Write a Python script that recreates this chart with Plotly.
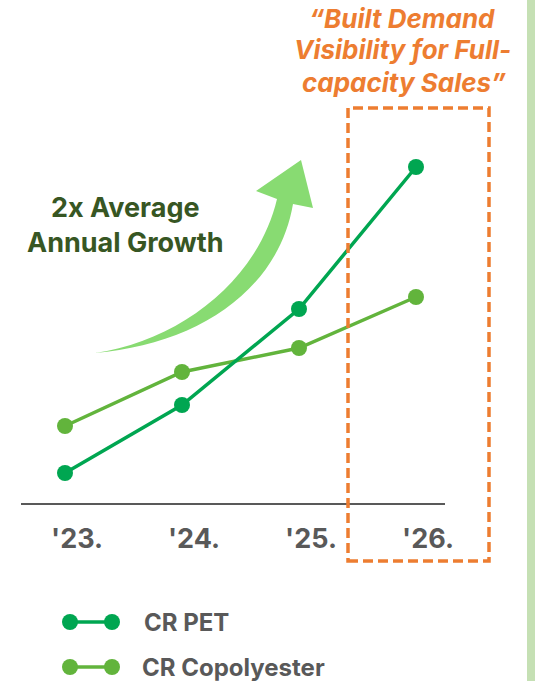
import plotly.graph_objects as go

# ---- data ----
years = ["'23.", "'24.", "'25.", "'26."]
cr_pet = [3.0, 9.8, 19.4, 33.6]
cr_copolyester = [7.7, 13.1, 15.5, 20.6]

PET_COLOR = "#00a651"
COPO_COLOR = "#62b43c"
ORANGE = "#ed7d31"
GRAY = "#595959"
FONT = "Inter"

W, H = 539, 681
L, R, T, B = 21, 445, 100, 503
PW, PH = R - L, B - T


def px(x):
    return (x - L) / PW


def py(y):
    return (B - y) / PH


xs = list(range(len(years)))
fig = go.Figure()
fig.add_trace(go.Scatter(x=xs, y=cr_copolyester, mode="lines+markers", name="CR Copolyester",
                         line=dict(color=COPO_COLOR, width=3.5),
                         marker=dict(color=COPO_COLOR, size=16), cliponaxis=False))
fig.add_trace(go.Scatter(x=xs, y=cr_pet, mode="lines+markers", name="CR PET",
                         line=dict(color=PET_COLOR, width=3.5),
                         marker=dict(color=PET_COLOR, size=16), cliponaxis=False))

shapes = []
# right green bar
shapes.append(dict(type="rect", xref="paper", yref="paper", x0=px(527), x1=px(535), y0=py(0), y1=py(H),
                   fillcolor="#c5e0b4", line=dict(width=0), layer="below"))

# curved arrow
pts = [
    ("M", [(95, 353)]),
    ("C", [(195, 345), (278, 292), (293, 204)]),
    ("L", [(313, 208)]),
    ("L", [(301, 160)]),
    ("L", [(256, 191)]),
    ("L", [(277, 199)]),
    ("C", [(258, 280), (180, 341), (95, 353)]),
]
path = ""
for cmd, cs in pts:
    path += cmd + " " + " ".join(f"{px(a):.5f},{py(b):.5f}" for a, b in cs) + " "
path += "Z"
shapes.append(dict(type="path", xref="paper", yref="paper", path=path,
                   fillcolor="#88db72", line=dict(width=0), layer="below"))

# orange dashed box
shapes.append(dict(type="rect", xref="paper", yref="paper", x0=px(348), x1=px(489), y0=py(561), y1=py(108),
                   line=dict(color=ORANGE, width=3.5, dash="10px,5px"), fillcolor="rgba(0,0,0,0)"))

# legend samples
for yy, col in [(622, PET_COLOR), (667, COPO_COLOR)]:
    shapes.append(dict(type="line", xref="paper", yref="paper", x0=px(70), x1=px(112), y0=py(yy), y1=py(yy),
                       line=dict(color=col, width=3.5)))
    for cx in (70, 112):
        shapes.append(dict(type="circle", xref="paper", yref="paper", x0=px(cx - 8), x1=px(cx + 8),
                           y0=py(yy + 8), y1=py(yy - 8), fillcolor=col, line=dict(width=0)))

annotations = []
for txt, cx, cy in [("“Built Demand", 402, 18), ("Visibility for Full-", 402, 49), ("capacity Sales”", 404, 82)]:
    annotations.append(dict(text=f"<b><i>{txt}</i></b>", x=px(cx), y=py(cy), xref="paper", yref="paper",
                            xanchor="center", yanchor="middle", showarrow=False,
                            font=dict(family=FONT, size=26, color=ORANGE)))
annotations += [
    dict(text="<b>2x Average<br>Annual Growth</b>", x=px(125), y=py(225), xref="paper", yref="paper",
         xanchor="center", yanchor="middle", showarrow=False,
         font=dict(family=FONT, size=27, color="#375623")),
    dict(text="<b>CR PET</b>", x=px(142), y=py(622), xref="paper", yref="paper", xanchor="left",
         yanchor="middle", showarrow=False, font=dict(family=FONT, size=24, color=GRAY)),
    dict(text="<b>CR Copolyester</b>", x=px(140), y=py(667), xref="paper", yref="paper", xanchor="left",
         yanchor="middle", showarrow=False, font=dict(family=FONT, size=24, color=GRAY)),
]

fig.update_layout(
    width=W, height=H, margin=dict(l=L, r=W - R, t=T, b=H - B),
    paper_bgcolor="white", plot_bgcolor="white", showlegend=False,
    shapes=shapes, annotations=annotations,
    xaxis=dict(range=[-(65 - L) / 117, 3 + (R - 416) / 117], tickvals=xs, ticktext=years,
               showgrid=False, zeroline=False, showline=True, linecolor=GRAY, linewidth=2,
               ticks="", ticklabelshift=12, ticklabelstandoff=11,
               tickfont=dict(family=FONT, size=27, color=GRAY, weight=700), fixedrange=True),
    yaxis=dict(range=[0, PH / 10], visible=False, fixedrange=True),
)

fig.write_html("out.html", config={"displayModeBar": False},
               post_script="document.body.style.margin='0';document.documentElement.style.overflow='hidden';")
